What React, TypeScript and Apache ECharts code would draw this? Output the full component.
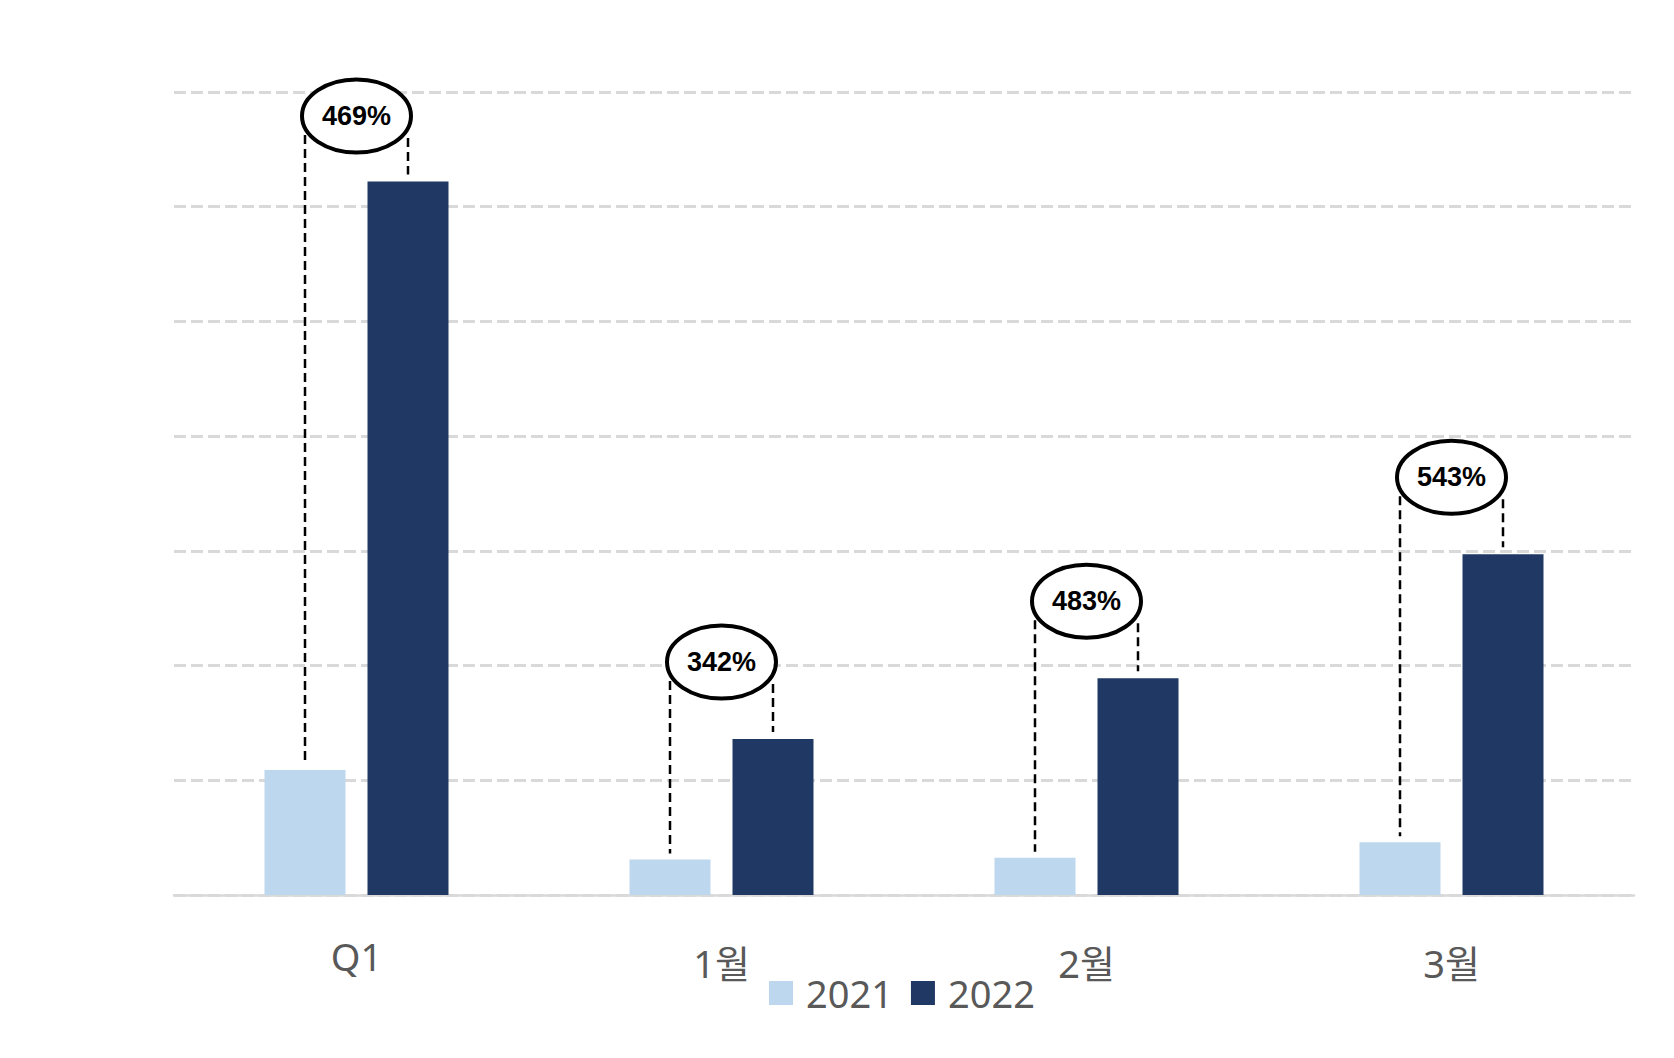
import * as echarts from 'echarts';
import React, { useEffect, useRef } from 'react';

const categories = ['Q1', '1월', '2월', '3월'];
const seriesNames = ['2021', '2022'];
const values2021 = [109, 31, 32.4, 46];
const values2022 = [622, 136, 189, 297];
const growthPct = [469, 342, 483, 543];

const Y_MAX = 700;
const BAR_W = 81;
const BAR_GAP = 22;
const FONT = "'Noto Sans', 'Noto Sans CJK KR', sans-serif";

const App: React.FC = () => {
  const ref = useRef<HTMLDivElement>(null);

  useEffect(() => {
    const chart = echarts.init(ref.current, null, { renderer: 'svg' });
    const off = (BAR_W + BAR_GAP) / 2;

    chart.setOption({
      animation: false,
      backgroundColor: '#fff',
      grid: { left: 174, right: 40, top: 92, bottom: 163 },
      legend: {
        data: seriesNames,
        left: 764,
        top: 969,
        itemWidth: 24,
        itemHeight: 24,
        itemGap: 18,
        icon: 'rect',
        textStyle: { color: '#595959', fontSize: 38, fontFamily: FONT, padding: [0, 0, 0, 8] },
      },
      xAxis: {
        type: 'category',
        data: categories,
        axisTick: { show: false },
        axisLine: { lineStyle: { color: '#d9d9d9', width: 2.5 } },
        axisLabel: {
          color: '#595959',
          fontSize: 38,
          fontFamily: FONT,
          margin: 42,
          formatter: (v: string) => (v.includes('월') ? `{m|${v}}` : v),
          rich: {
            m: { color: '#595959', fontSize: 38, fontFamily: FONT, padding: [7, 0, 0, 0] },
          },
        },
      },
      yAxis: {
        type: 'value',
        min: 0,
        max: Y_MAX,
        interval: 100,
        axisLabel: { show: false },
        axisLine: { show: false },
        axisTick: { show: false },
        splitLine: { lineStyle: { color: '#d9d9d9', width: 3, type: [12, 5] } },
      },
      series: [
        {
          name: seriesNames[0],
          type: 'bar',
          data: values2021,
          barWidth: BAR_W,
          barGap: `${(BAR_GAP / BAR_W) * 100}%`,
          itemStyle: { color: '#bdd7ee' },
        },
        {
          name: seriesNames[1],
          type: 'bar',
          data: values2022,
          barWidth: BAR_W,
          itemStyle: { color: '#203864' },
        },
        {
          type: 'custom',
          z: 5,
          data: categories.map((_, i) => [i, values2021[i], values2022[i], growthPct[i]]),
          encode: { x: 0, y: 2 },
          renderItem: (_params: any, api: any) => {
            const idx = api.value(0);
            const hi = api.coord([idx, api.value(2)]);
            const lo = api.coord([idx, api.value(1)]);
            const topY = api.coord([idx, Y_MAX])[1];
            const cx = hi[0];
            const cy = Math.max(topY + 24, hi[1] - 77);
            const dash = { stroke: '#000', lineWidth: 2.5, lineDash: [9, 5] };
            return {
              type: 'group',
              children: [
                {
                  type: 'line',
                  shape: { x1: cx - off, y1: cy + 19, x2: cx - off, y2: lo[1] - 6 },
                  style: dash,
                },
                {
                  type: 'line',
                  shape: { x1: cx + off, y1: cy + 22, x2: cx + off, y2: hi[1] - 7 },
                  style: dash,
                },
                {
                  type: 'ellipse',
                  shape: { cx, cy, rx: 54.5, ry: 36.5 },
                  style: { fill: '#fff', stroke: '#000', lineWidth: 4 },
                },
                {
                  type: 'text',
                  style: {
                    text: `${api.value(3)}%`,
                    x: cx,
                    y: cy,
                    align: 'center',
                    verticalAlign: 'middle',
                    fill: '#000',
                    font: "bold 27px 'Liberation Sans', Arial, sans-serif",
                  },
                },
              ],
            };
          },
        },
      ],
    });

    return () => {
      chart.dispose();
    };
  }, []);

  return (
    <div
      ref={ref}
      style={{ position: 'fixed', left: 0, top: 0, width: 1674, height: 1058 }}
    ></div>
  );
};

export default App;
